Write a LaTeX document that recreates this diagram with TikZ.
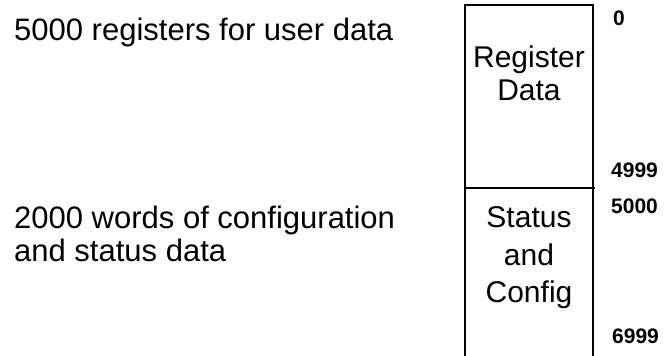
\documentclass[tikz,border=0pt]{standalone}
\usepackage{fontspec}
\setmainfont{Liberation Sans}
\tikzset{
  lbl/.style={anchor=base west, inner sep=0pt, font=\fontsize{31}{36}\selectfont},
  boxtxt/.style={anchor=base, inner sep=0pt, font=\fontsize{30}{36}\selectfont},
  addr/.style={anchor=base west, inner sep=0pt, font=\fontsize{21}{24}\selectfont\bfseries},
  border/.style={line width=2.6pt}
}
\begin{document}
\begin{tikzpicture}[x=1pt,y=-1pt]
\useasboundingbox (0,0) rectangle (670,356);
% box
\coordinate (tl) at (465,5);
\coordinate (tr) at (593,5);
\coordinate (bl) at (465,358);
\coordinate (br) at (593,358);
\coordinate (ml) at (465,188);
\coordinate (mr) at (595,188);
\draw[border] (tl) -- (tr) -- (br) -- (bl) -- cycle;
\draw[border] (ml) -- (mr);
% box texts
\node[boxtxt] (reg) at (529,67) {Register};
\node[boxtxt] (dat) at (529,100) {Data};
\node[boxtxt] (sta) at (529,227) {Status};
\node[boxtxt] (and) at (529,265) {and};
\node[boxtxt] (cfg) at (529,302) {Config};
% addresses
\node[addr] (a0) at (613,25) {0};
\node[addr] (a4999) at (611,177) {4999};
\node[addr] (a5000) at (611,213) {5000};
\node[addr] (a6999) at (612,343) {6999};
% left labels
\node[lbl] (l1) at (14,40) {5000 registers for user data};
\node[lbl] (l2) at (14,228) {2000 words of configuration};
\node[lbl] (l3) at (14,261) {and status data};
\end{tikzpicture}
\end{document}
